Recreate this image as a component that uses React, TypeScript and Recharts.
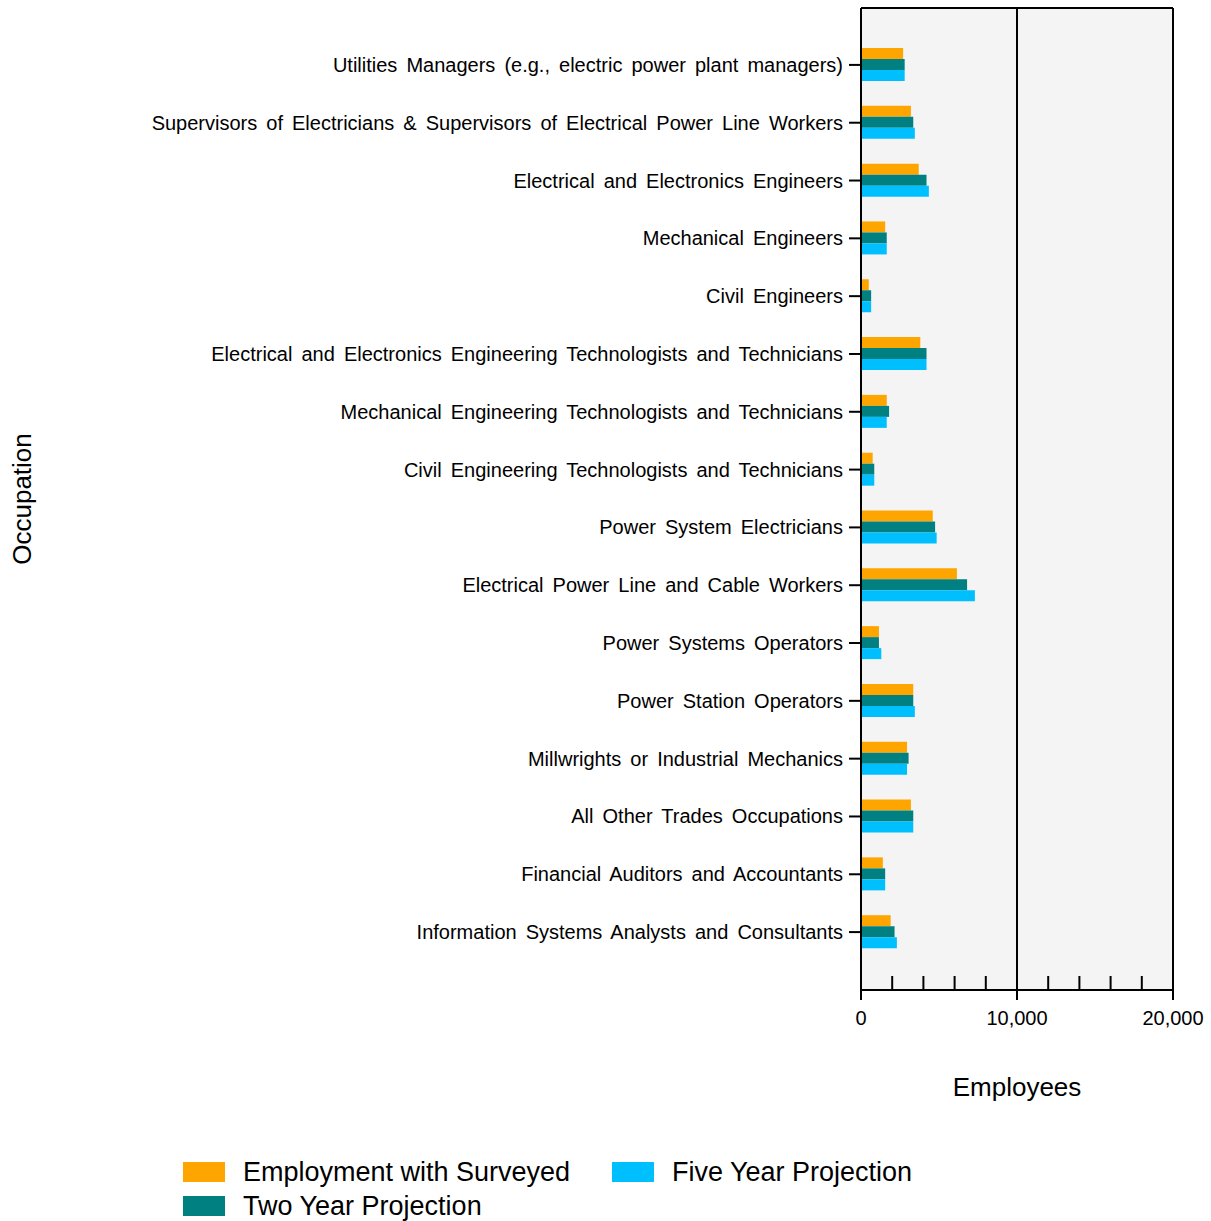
import React from 'react';
import { BarChart, Bar, XAxis, YAxis, Legend, ReferenceLine, CartesianGrid } from 'recharts';

const occupations = [
  'Utilities Managers (e.g., electric power plant managers)',
  'Supervisors of Electricians & Supervisors of Electrical Power Line Workers',
  'Electrical and Electronics Engineers',
  'Mechanical Engineers',
  'Civil Engineers',
  'Electrical and Electronics Engineering Technologists and Technicians',
  'Mechanical Engineering Technologists and Technicians',
  'Civil Engineering Technologists and Technicians',
  'Power System Electricians',
  'Electrical Power Line and Cable Workers',
  'Power Systems Operators',
  'Power Station Operators',
  'Millwrights or Industrial Mechanics',
  'All Other Trades Occupations',
  'Financial Auditors and Accountants',
  'Information Systems Analysts and Consultants',
];

const employment = [2700, 3200, 3700, 1550, 500, 3800, 1650, 750, 4600, 6150, 1150, 3350, 2950, 3200, 1400, 1900];
const twoYear = [2800, 3350, 4200, 1650, 650, 4200, 1800, 850, 4750, 6800, 1150, 3350, 3050, 3350, 1550, 2150];
const fiveYear = [2800, 3450, 4350, 1650, 650, 4200, 1650, 850, 4850, 7300, 1300, 3450, 2950, 3350, 1550, 2300];

const xTicks = [0, 2000, 4000, 6000, 8000, 10000, 12000, 14000, 16000, 18000, 20000];
const majorTicks = [0, 10000, 20000];

const series = [
  { key: 'employment', name: 'Employment with Surveyed', color: '#FFA500' },
  { key: 'twoYear', name: 'Two Year Projection', color: '#008080' },
  { key: 'fiveYear', name: 'Five Year Projection', color: '#00BFFF' },
];

const data = occupations.map((name, i) => ({
  name,
  employment: employment[i],
  twoYear: twoYear[i],
  fiveYear: fiveYear[i],
}));

const FONT = '"Liberation Sans", Arial, sans-serif';
const border = { stroke: '#000', strokeWidth: 2 };

const XTick = (props: any) => {
  const { x, y, payload } = props;
  const major = majorTicks.includes(payload.value);
  if (!major) {
    return <line x1={x} x2={x} y1={y} y2={y - 14} stroke="#000" strokeWidth={2} />;
  }
  return (
    <g>
      <line x1={x} x2={x} y1={y} y2={y + 10} stroke="#000" strokeWidth={2} />
      <text x={x} y={y + 28} textAnchor="middle" dominantBaseline="central" fontSize={20} fontFamily={FONT} fill="#000">
        {payload.value.toLocaleString('en-US')}
      </text>
    </g>
  );
};

const YTick = (props: any) => {
  const { x, y, payload } = props;
  return (
    <text x={x} y={y} textAnchor="end" dominantBaseline="central" fontSize={20} fontFamily={FONT} fill="#000" style={{ wordSpacing: '3.5px' }}>
      {payload.value}
    </text>
  );
};

const LegendBox = () => {
  const items = [
    { s: series[0], left: 183, top: 52 },
    { s: series[2], left: 612, top: 52 },
    { s: series[1], left: 183, top: 86 },
  ];
  return (
    <div style={{ position: 'relative', width: 1211, height: 111, fontFamily: FONT }}>
      {items.map(({ s, left, top }) => (
        <div key={s.key} style={{ position: 'absolute', left, top, display: 'flex', alignItems: 'center', height: 20 }}>
          <div style={{ width: 42, height: 20, background: s.color }} />
          <span style={{ marginLeft: 18, fontSize: 27, color: '#000', whiteSpace: 'nowrap' }}>{s.name}</span>
        </div>
      ))}
    </div>
  );
};

export default function App() {
  return (
    <div style={{ position: 'absolute', left: 0, top: 0, width: 1211, height: 1221, background: '#fff' }}>
      <BarChart
        width={1211}
        height={1221}
        data={data}
        layout="vertical"
        margin={{ top: 8, right: 38, bottom: 0, left: 0 }}
        barSize={11}
        barGap={0}
      >
        {/* plot background plus the top and right frame lines */}
        <CartesianGrid
          fill="#f4f4f4"
          stroke="#000"
          strokeWidth={2}
          horizontalCoordinatesGenerator={({ offset }: any) => [offset.top]}
          verticalCoordinatesGenerator={({ offset }: any) => [offset.left + offset.width]}
        />
        <XAxis
          type="number"
          domain={[0, 20000]}
          ticks={xTicks}
          interval={0}
          tickSize={0}
          tickMargin={0}
          tickLine={false}
          tick={<XTick />}
          height={120}
          axisLine={border}
          label={(p: any) => {
            const vb = p.viewBox || { x: 861, y: 990, width: 312 };
            return (
              <text x={vb.x + vb.width / 2} y={vb.y + 97} textAnchor="middle" dominantBaseline="central" fontSize={26} fontFamily={FONT} fill="#000">
                Employees
              </text>
            );
          }}
        />
        <YAxis
          type="category"
          dataKey="name"
          width={861}
          interval={0}
          tickSize={12}
          tickMargin={6}
          tickLine={border}
          axisLine={border}
          tick={<YTick />}
          padding={{ top: 28, bottom: 29 }}
          label={() => (
            <text x={22} y={499} transform="rotate(-90 22 499)" textAnchor="middle" dominantBaseline="central" fontSize={26} fontFamily={FONT} fill="#000">
              Occupation
            </text>
          )}
        />
        <ReferenceLine x={10000} stroke="#000" strokeWidth={2} />
        <Legend verticalAlign="bottom" height={111} content={() => <LegendBox />} wrapperStyle={{ left: 0, width: 1211 }} />
        {series.map((s) => (
          <Bar key={s.key} dataKey={s.key} name={s.name} fill={s.color} isAnimationActive={false} />
        ))}
      </BarChart>
    </div>
  );
}
